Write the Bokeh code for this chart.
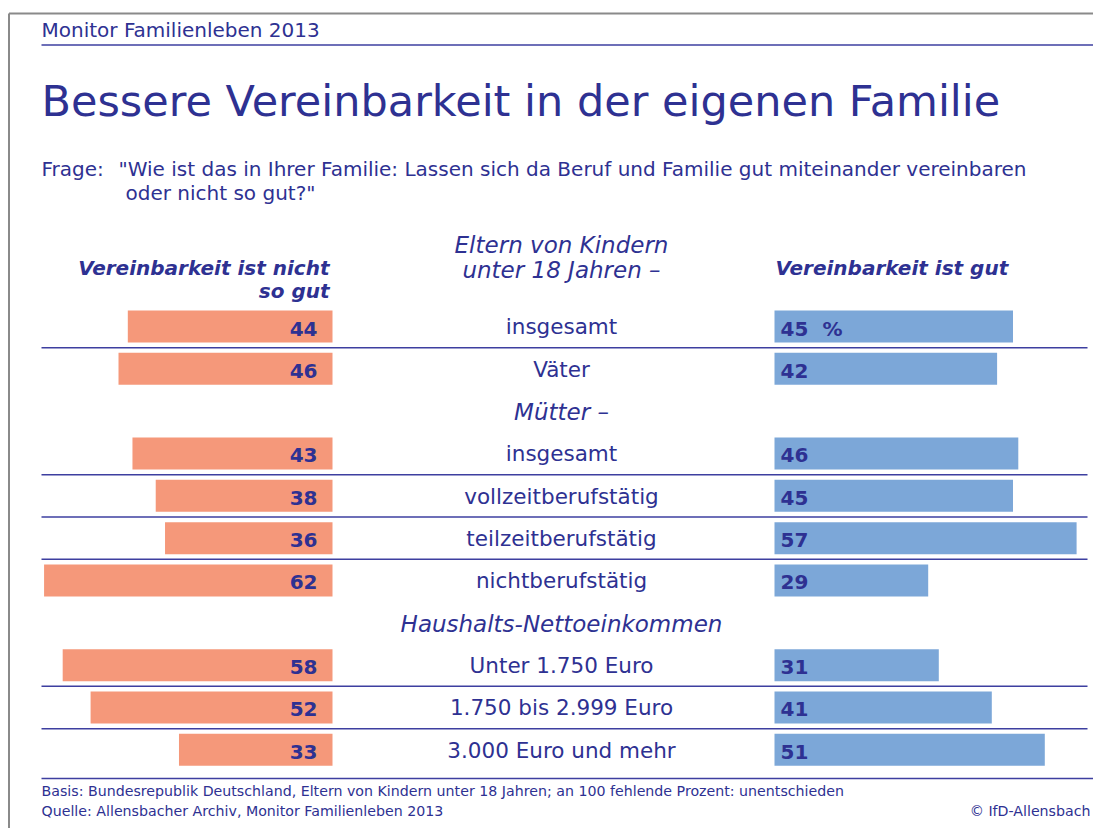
from bokeh.plotting import figure
from bokeh.models import Range1d, ColumnDataSource
from bokeh.embed import file_html
from bokeh.resources import INLINE
from bokeh.core.properties import value

# ---------------- data ----------------
categories = ["insgesamt", "Väter", "insgesamt", "vollzeitberufstätig",
              "teilzeitberufstätig", "nichtberufstätig",
              "Unter 1.750 Euro", "1.750 bis 2.999 Euro", "3.000 Euro und mehr"]
groups = ["Eltern", "Eltern", "Mütter", "Mütter", "Mütter", "Mütter",
          "Einkommen", "Einkommen", "Einkommen"]
group_titles = {"Mütter": "Mütter –", "Einkommen": "Haushalts-Nettoeinkommen"}
not_good = [44, 46, 43, 38, 36, 62, 58, 52, 33]   # Vereinbarkeit ist nicht so gut
good = [45, 42, 46, 45, 57, 29, 31, 41, 51]       # Vereinbarkeit ist gut

title = "Bessere Vereinbarkeit in der eigenen Familie"
kicker = "Monitor Familienleben 2013"
question = ['"Wie ist das in Ihrer Familie: Lassen sich da Beruf und Familie gut miteinander vereinbaren',
            'oder nicht so gut?"']
head_left = ["Vereinbarkeit ist nicht", "so gut"]
head_mid = ["Eltern von Kindern", "unter 18 Jahren –"]
head_right = "Vereinbarkeit ist gut"
footer = ["Basis: Bundesrepublik Deutschland, Eltern von Kindern unter 18 Jahren; an 100 fehlende Prozent: unentschieden",
          "Quelle: Allensbacher Archiv, Monitor Familienleben 2013"]
copyright_txt = "© IfD-Allensbach"

# ---------------- row layout ----------------
bar_rows, header_rows, header_texts, separators = [], [], [], []
r = 0
prev = None
for i, g in enumerate(groups):
    if g != prev and g in group_titles:
        header_rows.append(r)
        header_texts.append(group_titles[g])
        r += 1
    elif g == prev:
        separators.append(r - 0.5)
    bar_rows.append(r)
    prev = g
    r += 1

FONT = "DejaVu Sans"
TXT = "#2E3192"
LINE = "#3D3FA0"
W, H = 1093, 828
ROW0, STEP = 326, 42.33
BASE = 0.4  # baseline correction factor (fraction of font size)


def bl(y, fs):
    return y - BASE * fs


p = figure(width=W, height=H, x_range=Range1d(0, W), y_range=Range1d(H, 0),
           output_backend="svg", toolbar_location=None, min_border=0,
           x_axis_location=None, y_axis_location=None)
p.grid.visible = False
p.outline_line_color = None
p.background_fill_color = "white"

p.extra_x_ranges = {
    "left": Range1d(332 / 4.652, (332 - W) / 4.652),
    "right": Range1d(-774 / 5.30, (W - 774) / 5.30),
}
p.extra_y_ranges = {"rows": Range1d(start=(H - ROW0) / STEP, end=-ROW0 / STEP)}

src = ColumnDataSource(dict(y=bar_rows, ng=not_good, g=good, cat=categories,
                            ngt=[str(v) for v in not_good], gt=[str(v) for v in good]))

# frame lines
p.segment(x0=[8.5, 8.5], y0=[13, 13], x1=[8.5, W], y1=[H, 13], line_color="#8A8A8A", line_width=2)
p.segment(x0=[41, 41], y0=[44.5, 778], x1=[W, W], y1=[44.5, 778], line_color=LINE, line_width=1.5)

# bars
p.hbar(y="y", left=0, right="ng", height=0.756, source=src, x_range_name="left",
       y_range_name="rows", fill_color="#F5987A", line_color=None)
p.hbar(y="y", left=0, right="g", height=0.756, source=src, x_range_name="right",
       y_range_name="rows", fill_color="#7CA7D8", line_color=None)

# separators
p.segment(x0=[41] * len(separators), x1=[1087] * len(separators), y0=separators, y1=separators,
          y_range_name="rows", line_color=LINE, line_width=1.5)

common = dict(text_font=value(FONT), text_color=TXT, text_baseline="alphabetic")

# value labels
p.text(x=0, y="y", text="ngt", source=src, x_range_name="left", y_range_name="rows",
       x_offset=-15, y_offset=10 - BASE * 20, text_align="right", text_font_style="bold",
       text_font_size="20px", **common)
p.text(x=0, y="y", text="gt", source=src, x_range_name="right", y_range_name="rows",
       x_offset=6, y_offset=10 - BASE * 20, text_align="left", text_font_style="bold",
       text_font_size="20px", **common)
p.text(x=[0], y=[bar_rows[0]], text=["%"], x_range_name="right", y_range_name="rows",
       x_offset=48, y_offset=10 - BASE * 20, text_align="left", text_font_style="bold",
       text_font_size="20px", **common)

# category labels
p.text(x=561, y="y", text="cat", source=src, y_range_name="rows", y_offset=9 - BASE * 21.5,
       text_align="center", text_font_size="21.5px", **common)
p.text(x=[561] * len(header_rows), y=header_rows, text=header_texts, y_range_name="rows",
       y_offset=10 - BASE * 23, text_align="center", text_font_size="23px",
       text_font_style="italic", **common)

# headings
p.text(x=[41], y=[bl(37, 20)], text=[kicker], text_font_size="20px", text_align="left", **common)
p.text(x=[41], y=[bl(118, 43)], text=[title], text_font_size="43px", text_align="left", **common)
p.text(x=[41], y=[bl(176, 20)], text=["Frage:"], text_font_size="20px", text_align="left", **common)
p.text(x=[118, 125], y=[bl(176, 20), bl(200, 20)], text=question, text_font_size="20px",
       text_align="left", **common)
p.text(x=[561, 561], y=[bl(254, 23), bl(279, 23)], text=head_mid, text_font_size="23px",
       text_align="center", text_font_style="italic", **common)
p.text(x=[329, 329], y=[bl(275, 20), bl(298, 20)], text=head_left, text_font_size="20px",
       text_align="right", text_font_style="bold italic", **common)
p.text(x=[775], y=[bl(275, 20)], text=[head_right], text_font_size="20px", text_align="left",
       text_font_style="bold italic", **common)

# footer
p.text(x=[41, 41], y=[bl(796, 14.2), bl(816, 14.2)], text=footer, text_font_size="14.2px",
       text_align="left", **common)
p.text(x=[1090], y=[bl(816, 14.2)], text=[copyright_txt], text_font_size="14.2px",
       text_align="right", **common)

open("out.html", "w").write(file_html(p, INLINE))
